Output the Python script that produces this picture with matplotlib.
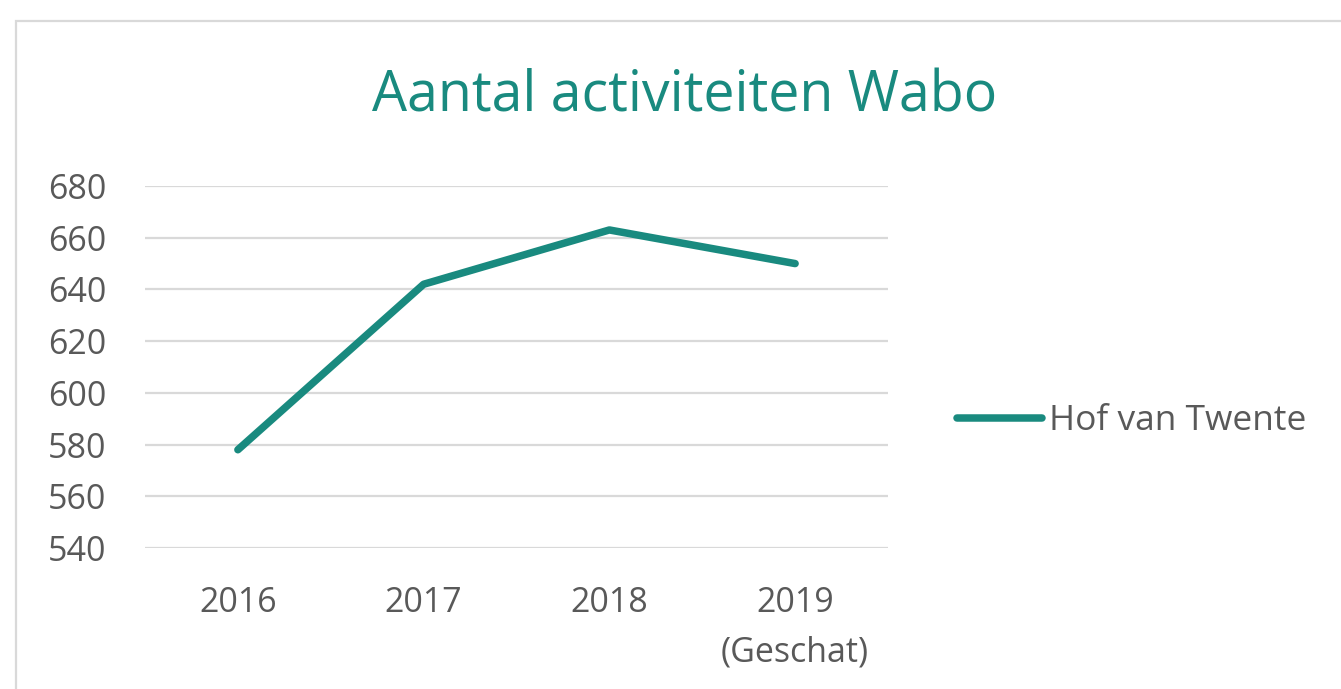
import matplotlib
matplotlib.use("Agg")
import matplotlib.pyplot as plt
from matplotlib.patches import Rectangle

years = ["2016", "2017", "2018", "2019\n(Geschat)"]
values = [578, 642, 663, 650]
series_name = "Hof van Twente"
title = "Aantal activiteiten Wabo"
yticks = [540, 560, 580, 600, 620, 640, 660, 680]

teal = "#198a7f"
grey_text = "#595959"
grid_c = "#d9d9d9"

plt.rcParams['font.family'] = ['Open Sans', 'DejaVu Sans']

W, H = 1341, 689
fig = plt.figure(figsize=(W / 100, H / 100), dpi=100)
fig.patch.set_facecolor("white")

# outer chart border
fig.patches.append(Rectangle((16 / W, -0.05), 1.1, 1 - 21 / H + 0.05,
                             transform=fig.transFigure, fill=False,
                             edgecolor=grid_c, linewidth=1.6, zorder=0))

ax = fig.add_axes([145 / W, 1 - 548 / H, (888 - 145) / W, (548 - 186) / H])
x = list(range(len(years)))
ax.plot(x, values, color=teal, linewidth=5.4, solid_capstyle="round",
        solid_joinstyle="round", label=series_name, zorder=3)
ax.set_xlim(-0.5, len(years) - 0.5)
ax.set_ylim(540, 680)
ax.set_yticks(yticks)
ax.set_xticks(x)
ax.set_xticklabels(years, linespacing=1.6)
for s in ax.spines.values():
    s.set_visible(False)
ax.grid(axis="y", color=grid_c, linewidth=1.6)
ax.set_axisbelow(True)
ax.tick_params(axis="both", length=0, colors=grey_text, labelsize=24.5)
ax.tick_params(axis="y", pad=28)
ax.tick_params(axis="x", pad=27)
for lbl in ax.get_xticklabels():
    lbl.set_verticalalignment("top")

fig.text(685 / W, 1 - 97 / H, title, color=teal, fontsize=40,
         ha="center", va="center")

leg = ax.legend(loc="center left", bbox_to_anchor=(957 / W, 1 - 421 / H),
                bbox_transform=fig.transFigure, frameon=False,
                fontsize=25.5, handlelength=2.4, handletextpad=0.2,
                borderpad=0, borderaxespad=0)
for t in leg.get_texts():
    t.set_color(grey_text)

fig.savefig("out.png", dpi=100)
